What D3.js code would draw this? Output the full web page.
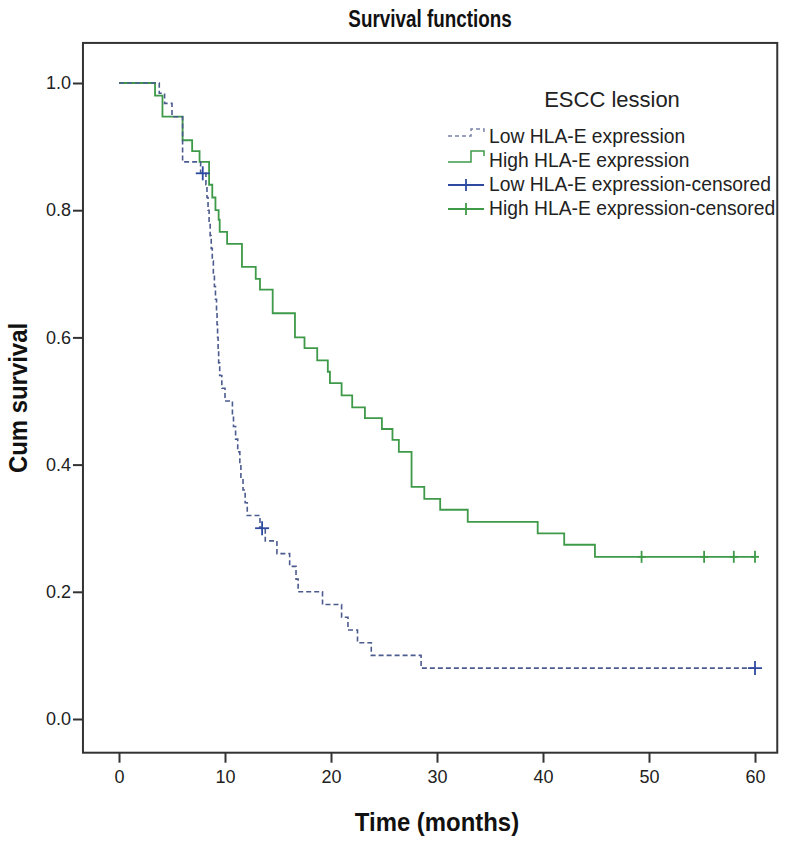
<!DOCTYPE html>
<html>
<head>
<meta charset="utf-8">
<script src="https://cdn.jsdelivr.net/npm/d3@7"></script>
<style>
  body { margin: 0; background: #fff; }
  text { font-family: Arial, "Liberation Sans", sans-serif; }
</style>
</head>
<body>
<div id="chart"></div>
<script>
// Kaplan-Meier steps (time in months, cumulative survival)
var lowTime = [0, 3.8, 4.3, 5.0, 6.0, 7.7, 8.2, 8.3, 8.4, 8.5, 8.6, 8.7, 8.8, 8.9, 9.0, 9.1, 9.2, 9.25, 9.3, 9.35, 9.4, 9.5, 9.7, 10.0,
  10.7, 10.8, 11.0, 11.2, 11.4, 11.5, 11.7, 11.9, 12.1, 13.3, 13.8, 14.9, 16.1, 16.7, 16.9, 19.2, 21.0, 21.6, 22.5, 23.8, 28.5, 60];
var lowSurv = [1, 0.984, 0.968, 0.947, 0.876, 0.858, 0.84, 0.82, 0.80, 0.78, 0.76, 0.74, 0.72, 0.70, 0.68, 0.66, 0.64, 0.62, 0.60, 0.58, 0.56, 0.54, 0.52, 0.50,
  0.48, 0.46, 0.44, 0.42, 0.40, 0.38, 0.36, 0.34, 0.32, 0.30, 0.28, 0.26, 0.24, 0.22, 0.20, 0.18, 0.16, 0.14, 0.12, 0.10, 0.08, 0.08];
var lowCensTime = [7.9, 13.5, 60];
var lowCensSurv = [0.858, 0.30, 0.08];

var highTime = [0, 3.4, 4.1, 6.0, 6.9, 7.6, 8.5, 8.8, 9.1, 9.4, 9.5, 10.2, 11.6, 12.9, 13.3, 14.5, 16.6, 17.5, 18.7, 19.7, 19.9,
  21.0, 22.0, 23.2, 24.8, 25.8, 26.4, 27.6, 28.8, 30.3, 32.9, 39.5, 42.0, 44.9, 60];
var highSurv = [1, 0.98, 0.947, 0.910, 0.893, 0.876, 0.84, 0.82, 0.80, 0.785, 0.766, 0.747, 0.711, 0.692, 0.675, 0.638, 0.60, 0.583, 0.564, 0.546, 0.528,
  0.509, 0.49, 0.473, 0.456, 0.439, 0.42, 0.365, 0.346, 0.329, 0.31, 0.292, 0.274, 0.255, 0.255];
var highCensTime = [49.3, 55.2, 58.0, 60];
var highCensSurv = [0.255, 0.255, 0.255, 0.255];

var xTicks = [0, 10, 20, 30, 40, 50, 60];
var yTicks = [0, 0.2, 0.4, 0.6, 0.8, 1.0];
var legendLabels = ["Low HLA-E expression", "High HLA-E expression",
  "Low HLA-E expression-censored", "High HLA-E expression-censored"];

const width = 800, height = 842;
const lowColor = "#4c5b8e", highColor = "#3e9a48", lowCensColor = "#2e4aa0", frameColor = "#333";

var svg = d3.select("#chart").append("svg")
  .attr("width", width).attr("height", height);

var x = d3.scaleLinear().domain([0, 60]).range([119, 755]);
var y = d3.scaleLinear().domain([0, 1]).range([719, 83]);

// plot frame
var fx0 = x(-3.4), fx1 = x(62.1), fy0 = y(1.063), fy1 = y(-0.053);
svg.append("rect")
  .attr("x", fx0).attr("y", fy0)
  .attr("width", fx1 - fx0).attr("height", fy1 - fy0)
  .attr("fill", "none").attr("stroke", frameColor).attr("stroke-width", 2);

// axes
var xAxis = svg.append("g").attr("transform", "translate(0," + fy1 + ")")
  .call(d3.axisBottom(x).tickValues(xTicks).tickSize(10).tickPadding(8));
var yAxis = svg.append("g").attr("transform", "translate(" + fx0 + ",0)")
  .call(d3.axisLeft(y).tickValues(yTicks).tickSize(10).tickPadding(2).tickFormat(d3.format(".1f")));
[xAxis, yAxis].forEach(function (g) {
  g.select(".domain").remove();
  g.selectAll(".tick line").attr("stroke", frameColor).attr("stroke-width", 2);
  g.selectAll(".tick text").attr("fill", "#222").style("font-size", "18px")
    .style("font-family", "Arial, 'Liberation Sans', sans-serif");
});

// titles (the original fonts are tall and narrow, so squeeze them a bit)
svg.append("text").attr("transform", "translate(430,27) scale(0.82,1)").attr("text-anchor", "middle")
  .style("font-size", "23px").style("font-weight", "bold").attr("fill", "#111")
  .text("Survival functions");
svg.append("text").attr("transform", "translate(437,831) scale(0.92,1)").attr("text-anchor", "middle")
  .style("font-size", "26px").style("font-weight", "bold").attr("fill", "#111")
  .text("Time (months)");
svg.append("text").attr("transform", "translate(27,398) rotate(-90) scale(0.92,1)").attr("text-anchor", "middle")
  .style("font-size", "26px").style("font-weight", "bold").attr("fill", "#111")
  .text("Cum survival");

// curves
var stepLine = d3.line()
  .x(function (d) { return x(d[0]); })
  .y(function (d) { return y(d[1]); })
  .curve(d3.curveStepAfter);

var lowData = d3.zip(lowTime, lowSurv);
var highData = d3.zip(highTime, highSurv);

svg.append("path").datum(highData)
  .attr("d", stepLine).attr("fill", "none")
  .attr("stroke", highColor).attr("stroke-width", 1.8);
svg.append("path").datum(lowData)
  .attr("d", stepLine).attr("fill", "none")
  .attr("stroke", lowColor).attr("stroke-width", 1.6).attr("stroke-dasharray", "5,3");

// censor marks
function cross(g, cx, cy, hw, vh, color) {
  g.append("line").attr("x1", cx - hw).attr("x2", cx + hw).attr("y1", cy).attr("y2", cy)
    .attr("stroke", color).attr("stroke-width", 1.8);
  g.append("line").attr("x1", cx).attr("x2", cx).attr("y1", cy - vh).attr("y2", cy + vh)
    .attr("stroke", color).attr("stroke-width", 1.8);
}
var cens = svg.append("g");
d3.zip(highCensTime, highCensSurv).forEach(function (d) {
  cross(cens, x(d[0]), y(d[1]), 4, 6, highColor);
});
d3.zip(lowCensTime, lowCensSurv).forEach(function (d) {
  cross(cens, x(d[0]), y(d[1]), 7, 7, lowCensColor);
});

// legend
var leg = svg.append("g");
leg.append("text").attr("x", 612).attr("y", 107).attr("text-anchor", "middle")
  .style("font-size", "22px").attr("fill", "#222").text("ESCC lession");
var rowY = [137, 161, 185, 209];
leg.selectAll("text.item").data(legendLabels).enter().append("text")
  .attr("class", "item")
  .attr("x", 489).attr("y", function (d, i) { return rowY[i] + 6; })
  .style("font-size", "19.3px").attr("fill", "#222")
  .text(function (d) { return d; });

// legend symbols
leg.append("path")
  .attr("d", "M448," + (rowY[0] - 1) + "H471V" + (rowY[0] - 8) + "H484V" + (rowY[0] - 4))
  .attr("fill", "none").attr("stroke", "#7a82a8").attr("stroke-width", 1.5).attr("stroke-dasharray", "4,3");
leg.append("path")
  .attr("d", "M448," + (rowY[1] + 1) + "H471V" + (rowY[1] - 10) + "H484V" + (rowY[1] - 5))
  .attr("fill", "none").attr("stroke", highColor).attr("stroke-width", 1.5);
cross(leg, 466, rowY[2], 18, 6, lowCensColor);
cross(leg, 466, rowY[3], 18, 6, highColor);
</script>
</body>
</html>
